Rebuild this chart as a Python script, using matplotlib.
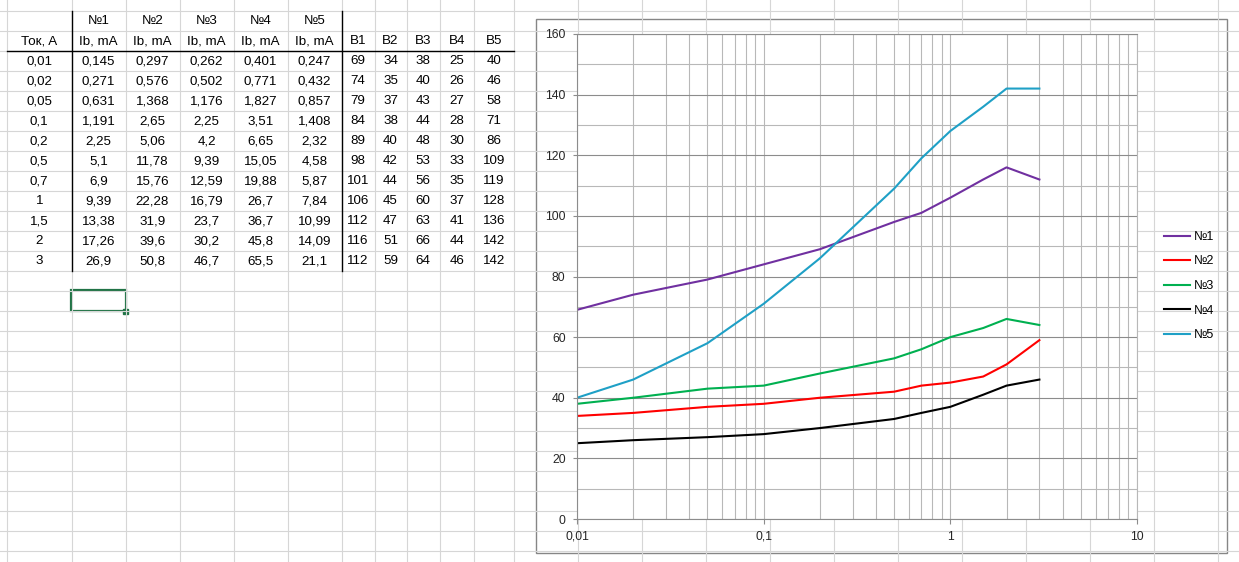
import matplotlib
matplotlib.use('Agg')
import matplotlib.pyplot as plt
from matplotlib.patches import Rectangle
from matplotlib.ticker import MultipleLocator, LogLocator, FuncFormatter, NullFormatter

plt.rcParams['font.family'] = ['Liberation Sans', 'DejaVu Sans']

# данные таблицы
current = [0.01, 0.02, 0.05, 0.1, 0.2, 0.5, 0.7, 1, 1.5, 2, 3]
ib1 = [0.145, 0.271, 0.631, 1.191, 2.25, 5.1, 6.9, 9.39, 13.38, 17.26, 26.9]
ib2 = [0.297, 0.576, 1.368, 2.65, 5.06, 11.78, 15.76, 22.28, 31.9, 39.6, 50.8]
ib3 = [0.262, 0.502, 1.176, 2.25, 4.2, 9.39, 12.59, 16.79, 23.7, 30.2, 46.7]
ib4 = [0.401, 0.771, 1.827, 3.51, 6.65, 15.05, 19.88, 26.7, 36.7, 45.8, 65.5]
ib5 = [0.247, 0.432, 0.857, 1.408, 2.32, 4.58, 5.87, 7.84, 10.99, 14.09, 21.1]
b1 = [69, 74, 79, 84, 89, 98, 101, 106, 112, 116, 112]
b2 = [34, 35, 37, 38, 40, 42, 44, 45, 47, 51, 59]
b3 = [38, 40, 43, 44, 48, 53, 56, 60, 63, 66, 64]
b4 = [25, 26, 27, 28, 30, 33, 35, 37, 41, 44, 46]
b5 = [40, 46, 58, 71, 86, 109, 119, 128, 136, 142, 142]

names = ['№1', '№2', '№3', '№4', '№5']
head2 = ['Ток, A', 'Ib, mA', 'Ib, mA', 'Ib, mA', 'Ib, mA', 'Ib, mA', 'B1', 'B2', 'B3', 'B4', 'B5']
colors = ['#7030A0', '#FF0000', '#00B050', '#000000', '#1FA0C6']

def fmt(v):
    return f'{v:g}'.replace('.', ',')

W, H = 1239, 562
fig = plt.figure(figsize=(W / 100, H / 100), dpi=100)

# фон листа Excel
bg = fig.add_axes([0, 0, 1, 1], zorder=0)
bg.set_xlim(0, W)
bg.set_ylim(H, 0)
bg.axis('off')

cols = [7, 71.5, 125.5, 179.5, 233.5, 287.5, 341.5, 374.5, 406.5, 439.5, 474, 514,
        578, 642, 706, 770, 834, 898, 962, 1026, 1090, 1154, 1218]
rows = [10.5 + 20 * k for k in range(28)]
for x in cols:
    bg.axvline(x, color='#d6d6d6', lw=0.8)
for y in rows:
    bg.axhline(y, color='#d6d6d6', lw=0.8)

# рамки таблицы
bg.plot([7, 514], [51, 51], color='black', lw=1)
bg.plot([71.5, 71.5], [10.5, 270.5], color='black', lw=1)
bg.plot([341.5, 341.5], [10.5, 270.5], color='black', lw=1)

centers = [(cols[i] + cols[i + 1]) / 2 for i in range(11)]
tkw = dict(ha='center', va='center', fontsize=9.6, color='black')
for i, n in enumerate(names):
    bg.text(centers[i + 1], 21.5, n, **tkw)
for i, h in enumerate(head2):
    bg.text(centers[i], 41.5, h, **tkw)
table_cols = [current, ib1, ib2, ib3, ib4, ib5, b1, b2, b3, b4, b5]
for j, col in enumerate(table_cols):
    for r, v in enumerate(col):
        bg.text(centers[j], 61.5 + 20 * r, fmt(v), **tkw)

# выделенная ячейка
bg.add_patch(Rectangle((71, 290), 55, 21, fill=False, edgecolor='#217346', lw=1.6))
bg.add_patch(Rectangle((123, 309), 4.5, 4.5, color='#217346'))

# область диаграммы
bg.add_patch(Rectangle((536, 19), 691, 534, facecolor='white', edgecolor='#868686', lw=1))

ax = fig.add_axes([577 / W, 43 / H, 560 / W, 485 / H], zorder=1)
ax.set_xscale('log')
ax.set_xlim(0.01, 10)
ax.set_ylim(0, 160)
ax.yaxis.set_major_locator(MultipleLocator(20))
ax.yaxis.set_minor_locator(MultipleLocator(10))
ax.xaxis.set_major_locator(LogLocator(base=10))
ax.xaxis.set_minor_locator(LogLocator(base=10, subs=range(2, 10)))
ax.xaxis.set_major_formatter(FuncFormatter(lambda v, _: fmt(v)))
ax.xaxis.set_minor_formatter(NullFormatter())

ax.grid(True, axis='y', which='major', color='#8c8c8c', lw=0.8)
ax.grid(True, axis='y', which='minor', color='#b8b8b8', lw=0.8)
ax.grid(True, axis='x', which='both', color='#b8b8b8', lw=0.8)
ax.set_axisbelow(True)

for side in ['left', 'bottom', 'top']:
    ax.spines[side].set_color('#8c8c8c')
    ax.spines[side].set_linewidth(0.8)
ax.spines['right'].set_color('#b8b8b8')
ax.spines['right'].set_linewidth(0.8)

ax.tick_params(axis='y', which='major', length=3.2, width=0.8, color='#8c8c8c',
               pad=5, labelsize=8.8, labelcolor='#262626')
ax.tick_params(axis='x', which='major', length=3.6, width=0.8, color='#8c8c8c',
               pad=5, labelsize=8.8, labelcolor='#262626')
ax.tick_params(which='minor', length=0)

for vals, c, n in zip([b1, b2, b3, b4, b5], colors, names):
    ax.plot(current, vals, color=c, lw=1.5, label=n)

fig.legend(loc='center left', bbox_to_anchor=(1164 / W, (H - 286) / H),
           frameon=False, fontsize=9, borderpad=0, borderaxespad=0,
           handlelength=2.1, handletextpad=0.25, labelspacing=1.0)

fig.savefig('out.png', dpi=100)
